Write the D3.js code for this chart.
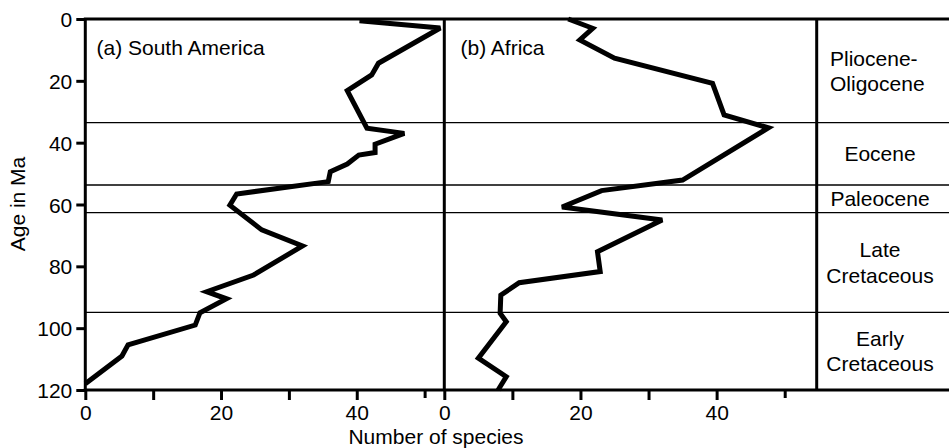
<!DOCTYPE html>
<html>
<head>
<meta charset="utf-8">
<script src="https://cdn.jsdelivr.net/npm/d3@7"></script>
<style>
  html, body { margin: 0; padding: 0; background: #fff; }
  svg text { font-family: "Liberation Sans", Arial, Helvetica, sans-serif; fill: #000; }
</style>
</head>
<body>
<svg id="chart" width="949" height="448"></svg>
<script>
// ---- data ----
const saAge   = [0.6, 2.9, 14.3, 18.1, 23.2, 35.3, 37.0, 40.5, 43.2, 44.0, 46.9, 49.4, 52.6, 56.6, 60.2, 68.2, 73.4, 82.8, 88.2, 90.5, 95.0, 99.0, 105.4, 109.0, 118.0];
const saCount = [40.4, 52.3, 43.2, 42.2, 38.6, 41.5, 47.0, 42.7, 42.7, 40.3, 38.6, 36.1, 35.8, 22.3, 21.3, 26.0, 32.0, 24.8, 17.9, 20.8, 16.9, 16.2, 6.3, 5.4, 0];

const afAge   = [0, 3.0, 6.8, 12.7, 20.8, 31.0, 35.2, 52.1, 55.5, 60.8, 65.0, 75.3, 81.7, 85.3, 89.3, 95.2, 97.9, 109.7, 115.7, 120];
const afCount = [18.2, 21.8, 19.9, 25.0, 39.4, 41.1, 47.6, 35.0, 23.1, 17.3, 32.0, 22.5, 22.9, 11.0, 8.3, 8.2, 9.1, 5.0, 9.1, 7.9];

const epochBoundaries = [33.5, 53.7, 62.6, 94.9];
const epochNames = [["Pliocene-", "Oligocene"], ["Eocene"], ["Paleocene"], ["Late", "Cretaceous"], ["Early", "Cretaceous"]];

const ageTicks = [0, 20, 40, 60, 80, 100, 120];
const countTicks = [0, 10, 20, 30, 40, 50];
const countTickLabels = ["0", "", "20", "", "40", ""];
const panelTitles = ["(a) South America", "(b) Africa"];

// ---- layout ----
const svg = d3.select("#chart");
const yTop = 19, yBottom = 390;
const xLeft = 85.3, xMid = 444.3, xRight = 816.7, xEnd = 949;
const y = d3.scaleLinear().domain([0, 120]).range([yTop, yBottom]);
const xA = d3.scaleLinear().domain([0, 52.9]).range([xLeft, xMid]);
const xB = d3.scaleLinear().domain([0, 54.7]).range([xMid, xRight]);
const FS = 21;

// thin epoch boundary lines
svg.append("g").selectAll("line").data(epochBoundaries).join("line")
  .attr("x1", xLeft).attr("x2", xEnd)
  .attr("y1", d => y(d)).attr("y2", d => y(d))
  .attr("stroke", "#000").attr("stroke-width", 1.3);

// y axis
const yAxis = d3.axisLeft(y).tickValues(ageTicks).tickSize(9).tickPadding(4).tickFormat(d3.format("d"));
const gy = svg.append("g").attr("transform", `translate(${xLeft},0)`).call(yAxis);
gy.select(".domain").remove();
gy.selectAll(".tick line").attr("stroke", "#000").attr("stroke-width", 3);
gy.selectAll(".tick text").attr("font-size", FS).attr("font-family", null).attr("x", -13).attr("dy", "0.36em");

// x axes
function xAxisFor(scale) {
  return d3.axisBottom(scale).tickValues(countTicks).tickSize(10).tickPadding(4)
    .tickFormat((d, i) => countTickLabels[i]);
}
[xA, xB].forEach(sc => {
  const g = svg.append("g").attr("transform", `translate(0,${yBottom})`).call(xAxisFor(sc));
  g.select(".domain").remove();
  g.selectAll(".tick line").attr("stroke", "#000").attr("stroke-width", 3)
    .attr("y2", d => d === 50 ? 8 : 10);
  g.selectAll(".tick text").attr("font-size", FS).attr("font-family", null).attr("y", 15).attr("dy", "0.71em");
});

// frame lines
const frame = svg.append("g").attr("stroke", "#000").attr("stroke-width", 3).attr("fill", "none");
frame.append("line").attr("x1", xLeft - 1.5).attr("x2", xEnd).attr("y1", yTop).attr("y2", yTop);
frame.append("line").attr("x1", xLeft - 1.5).attr("x2", xEnd).attr("y1", yBottom).attr("y2", yBottom);
[xLeft, xMid, xRight].forEach(x => {
  frame.append("line").attr("x1", x).attr("x2", x).attr("y1", yTop).attr("y2", yBottom);
});

// data lines
const lineA = d3.line().x((d, i) => xA(saCount[i])).y((d, i) => y(saAge[i]));
const lineB = d3.line().x((d, i) => xB(afCount[i])).y((d, i) => y(afAge[i]));
svg.append("path").attr("d", lineA(saAge)).attr("fill", "none").attr("stroke", "#000")
  .attr("stroke-width", 5).attr("stroke-linejoin", "miter").attr("stroke-miterlimit", 3);
svg.append("path").attr("d", lineB(afAge)).attr("fill", "none").attr("stroke", "#000")
  .attr("stroke-width", 5).attr("stroke-linejoin", "miter").attr("stroke-miterlimit", 3);

// panel titles
svg.append("text").attr("x", 96.5).attr("y", 55).attr("font-size", FS).text(panelTitles[0]);
svg.append("text").attr("x", 460.5).attr("y", 55).attr("font-size", FS).text(panelTitles[1]);

// epoch labels
const bounds = [0, ...epochBoundaries, 120];
const lineGap = 25.5;
epochNames.forEach((lines, i) => {
  const mid = y((bounds[i] + bounds[i + 1]) / 2);
  const first = mid - (lines.length - 1) * lineGap / 2 + 7.5;
  const leftAligned = i === 0;
  const t = svg.append("text").attr("font-size", FS)
    .attr("text-anchor", leftAligned ? "start" : "middle");
  lines.forEach((s, j) => {
    t.append("tspan").attr("x", leftAligned ? 830 : 880).attr("y", first + j * lineGap).text(s);
  });
});

// axis titles
svg.append("text").attr("x", 436).attr("y", 443.5).attr("text-anchor", "middle").attr("font-size", FS).text("Number of species");
svg.append("text").attr("transform", "translate(25,204) rotate(-90)").attr("text-anchor", "middle").attr("font-size", FS).text("Age in Ma");
</script>
</body>
</html>
